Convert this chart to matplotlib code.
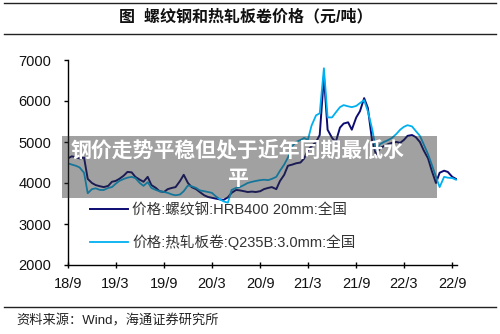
import matplotlib
matplotlib.use("Agg")
import matplotlib.pyplot as plt
from matplotlib.patches import Rectangle
from matplotlib.lines import Line2D
import pandas as pd

plt.rcParams["font.family"] = ["Liberation Sans", "Noto Sans CJK SC", "DejaVu Sans"]

# 半月频：2018-09-01 起
rebar = [4600, 4650, 4630, 4600, 4620, 4100, 4000, 3950, 3920, 3900,
         3930, 4030, 4050, 4100, 4180, 4270, 4260, 4150, 4080, 4030,
         4150, 3950, 3880, 3800, 3780, 3850, 3880, 3900, 4050, 4200,
         4000, 3900, 3850, 3780, 3700, 3660, 3640, 3620, 3600, 3590,
         3650, 3760, 3830, 3820, 3800, 3780, 3790, 3780, 3800, 3850,
         3880, 3900, 3850, 4050, 4200, 4420, 4450, 4480, 4500, 4600,
         4800, 4900, 5000, 5170, 6600, 5300, 5100, 5000, 5350, 5450,
         5480, 5300, 5600, 5750, 6070, 5830, 5000, 4700, 4850, 4900,
         4950, 4980, 5000, 4980, 5050, 5150, 5170, 5120, 5000, 4800,
         4600, 4300, 4000, 4250, 4300, 4270, 4150, 4100]
hrc = [4480, 4450, 4420, 4380, 4250, 3750, 3850, 3870, 3830, 3830,
       3880, 3900, 3980, 4050, 4100, 4130, 4150, 4120, 4000, 3930,
       4020, 3880, 3830, 3800, 3780, 3760, 3720, 3700, 3720, 3800,
       3940, 3920, 3880, 3820, 3800, 3780, 3760, 3680, 3600, 3550,
       3520, 3830, 3880, 3900, 3950, 4000, 4030, 4050, 4070, 4080,
       4070, 4100, 4150, 4300, 4450, 4620, 4900, 5000, 5050, 5100,
       5050, 5400, 5650, 5700, 6800, 5600, 5600, 5720, 5850, 5900,
       5870, 5850, 5880, 5950, 6020, 5750, 5300, 4800, 4950, 5000,
       5050, 5100, 5200, 5300, 5370, 5410, 5380, 5270, 5150, 4950,
       4700, 4450, 4150, 3900, 4150, 4130, 4120, 4080]
dates = pd.date_range("2018-09-01", periods=len(rebar), freq="SMS")

tick_dates = ["2018-09-01", "2019-03-01", "2019-09-01", "2020-03-01", "2020-09-01",
              "2021-03-01", "2021-09-01", "2022-03-01", "2022-09-01"]
tick_labels = ["18/9", "19/3", "19/9", "20/3", "20/9", "21/3", "21/9", "22/3", "22/9"]
y_ticks = [2000, 3000, 4000, 5000, 6000, 7000]

label_rebar = "价格:螺纹钢:HRB400 20mm:全国"
label_hrc = "价格:热轧板卷:Q235B:3.0mm:全国"
title = "图  螺纹钢和热轧板卷价格（元/吨）"
source = "资料来源：Wind，海通证券研究所"
overlay = "钢价走势平稳但处于近年同期最低水\n平"

C_REBAR = "#0c0c73"
C_HRC = "#00b0f0"

W, H = 500, 334
fig = plt.figure(figsize=(5, 3.34), dpi=100)
ax = fig.add_axes([68 / W, 1 - 265 / H, (457 - 68) / W, (265 - 60) / H])

ax.plot(dates, rebar, color=C_REBAR, lw=1.4)
ax.plot(dates, hrc, color=C_HRC, lw=1.3)

ax.set_ylim(2000, 7000)
ax.set_yticks(y_ticks)
ax.set_xlim(pd.Timestamp("2018-09-01"), pd.Timestamp("2022-09-19"))
ax.set_xticks(pd.to_datetime(tick_dates))
ax.set_xticklabels(tick_labels)
for s in ("top", "right"):
    ax.spines[s].set_visible(False)
for s in ("left", "bottom"):
    ax.spines[s].set_linewidth(1.0)
ax.tick_params(axis="y", direction="out", length=3, width=1, pad=9,
               labelsize=10.5, labelcolor="#111111")
ax.tick_params(axis="x", direction="inout", length=4, width=1, pad=7,
               labelsize=10.5, labelcolor="#111111")

handles = [Line2D([], [], color=C_REBAR, lw=1.4),
           Line2D([], [], color=C_HRC, lw=1.3)]
leg = ax.legend(handles, [label_rebar, label_hrc], loc="upper left",
                bbox_to_anchor=(90 / W, 1 - 203 / H), bbox_transform=fig.transFigure,
                frameon=False, fontsize=10.5, handlelength=2.6, handletextpad=0.3,
                labelspacing=1.2, borderpad=0, borderaxespad=0)
for t in leg.get_texts():
    t.set_color("#333333")

# 标题与分隔线
for yy in (3, 34, 307):
    fig.add_artist(Line2D([4 / W, 496 / W], [1 - yy / H, 1 - yy / H],
                          color="#222222", lw=1.0, transform=fig.transFigure))
fig.text(246 / W, 1 - 17 / H, title, ha="center", va="center", fontsize=11.5,
         fontweight="bold", color="#111111")
fig.text(16 / W, 1 - 321 / H, source, ha="left", va="center", fontsize=9.5,
         color="#222222")

# 半透明灰色遮罩
fig.patches.append(Rectangle((62 / W, 1 - 198 / H), (437 - 62) / W, (198 - 136) / H,
                             transform=fig.transFigure, facecolor="#303030",
                             alpha=0.45, edgecolor="none", zorder=5))
fig.text(238 / W, 1 - 164 / H, overlay, ha="center", va="center", fontsize=15,
         fontweight="bold", color="white", linespacing=1.45, zorder=6,
         family=["Noto Sans CJK SC", "DejaVu Sans"])

fig.savefig("out.png", dpi=100)
